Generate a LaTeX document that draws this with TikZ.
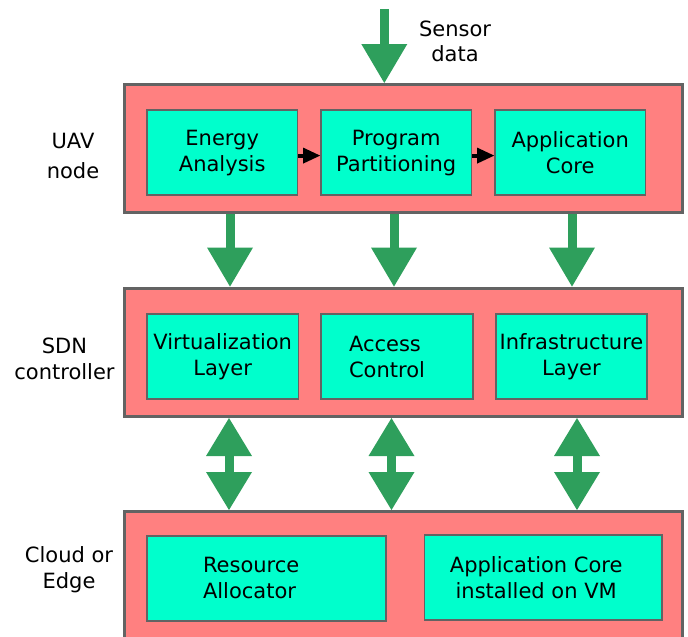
\documentclass[tikz,border=0pt]{standalone}
\usepackage{fontspec}
\setmainfont{DejaVu Sans}
\usetikzlibrary{arrows.meta,calc}
\definecolor{layerpink}{HTML}{FF8080}
\definecolor{modcyan}{HTML}{00FFCC}
\definecolor{flowgreen}{HTML}{2E9F5C}
\definecolor{edgegray}{HTML}{636363}

\begin{document}
\begin{tikzpicture}[x=1pt,y=-1pt,
  font=\fontsize{21}{26}\selectfont,
  layer/.style={draw=edgegray, line width=3pt, fill=layerpink,
    minimum width=558pt, inner sep=0pt},
  module/.style={draw=edgegray, line width=1.6pt, fill=modcyan,
    minimum height=85pt, inner sep=0pt, align=center},
  caption/.style={align=center, inner sep=0pt},
  flow/.style={flowgreen, line width=9pt,
    -{Triangle[width=46pt,length=39pt,line width=0pt]}},
  dflow/.style={flowgreen, line width=9pt,
    {Triangle[width=46pt,length=38pt,line width=0pt]}-{Triangle[width=46pt,length=38pt,line width=0pt]}},
  linkarrow/.style={black, line width=4pt,
    -{Triangle[width=16pt,length=17pt,line width=0pt]}}]

\useasboundingbox (0,0) rectangle (688,637);
\clip (0,0) rectangle (688,637);

% layers
\node[layer, minimum height=128pt] (uav) at (403.5,148.5) {};
\node[layer, minimum height=128.5pt] (sdn) at (403.5,352.3) {};
\node[layer, minimum height=150pt, anchor=north] (cloud) at (403.5,510) {};

% UAV node modules
\node[module, minimum width=150.5pt] (eng) at (222.2,152.6) {Energy\\Analysis};
\node[module, minimum width=150.5pt] (prog) at (396.2,152.6) {Program\\Partitioning};
\node[module, minimum width=150.5pt] (core) at (570.2,152.6) {Application\\Core};

% SDN controller modules
\node[module, minimum width=151.5pt] (virt) at (222.7,356.7) {Virtualization\\Layer};
\node[module, minimum width=151.5pt, align=left, text width=96pt] (acc) at (397,356.7) {Access\\Control};
\node[module, minimum width=151.5pt] (infra) at (571.5,356.7) {Infrastructure\\Layer};

% cloud / edge modules
\node[module, minimum width=239pt, align=left, text width=127pt] (res) at (266.5,578.3) {Resource\\Allocator};
\node[module, minimum width=237.5pt] (vm) at (543.2,577.3) {};
\node[caption] (vmtext) at ($(vm)+(-7,0)$) {Application Core\\installed on VM};

% side labels
\node[caption, font=\fontsize{21}{30}\selectfont] (luav) at (73,156) {UAV\\node};
\node[caption] (lsdn) at (64.5,358.5) {SDN\\controller};
\node[caption] (lcloud) at (69,570) {Cloud or\\Edge};
\node[caption, font=\fontsize{21}{25}\selectfont] (lsensor) at (455,41) {Sensor\\data};

% sensor input
\coordinate (sx) at (384.3,9);
\draw[flow] (sx) -- (sx |- uav.north);

% processing chain inside the UAV node
\draw[linkarrow] ([yshift=-3pt]eng.east) -- ([yshift=-3pt]prog.west);
\draw[linkarrow] ([yshift=-3pt]prog.east) -- ([yshift=-3pt]core.west);

% UAV node to SDN controller
\foreach \x/\n in {230/a,394/b,572/c}{
  \coordinate (d\n) at (\x,0);
  \draw[flow] (d\n |- uav.south) -- (d\n |- sdn.north);
}

% SDN controller to cloud or edge
\foreach \x/\n in {229/a,391.5/b,577/c}{
  \coordinate (u\n) at (\x,0);
  \draw[dflow] (u\n |- sdn.south) -- (u\n |- cloud.north);
}
\end{tikzpicture}
\end{document}
